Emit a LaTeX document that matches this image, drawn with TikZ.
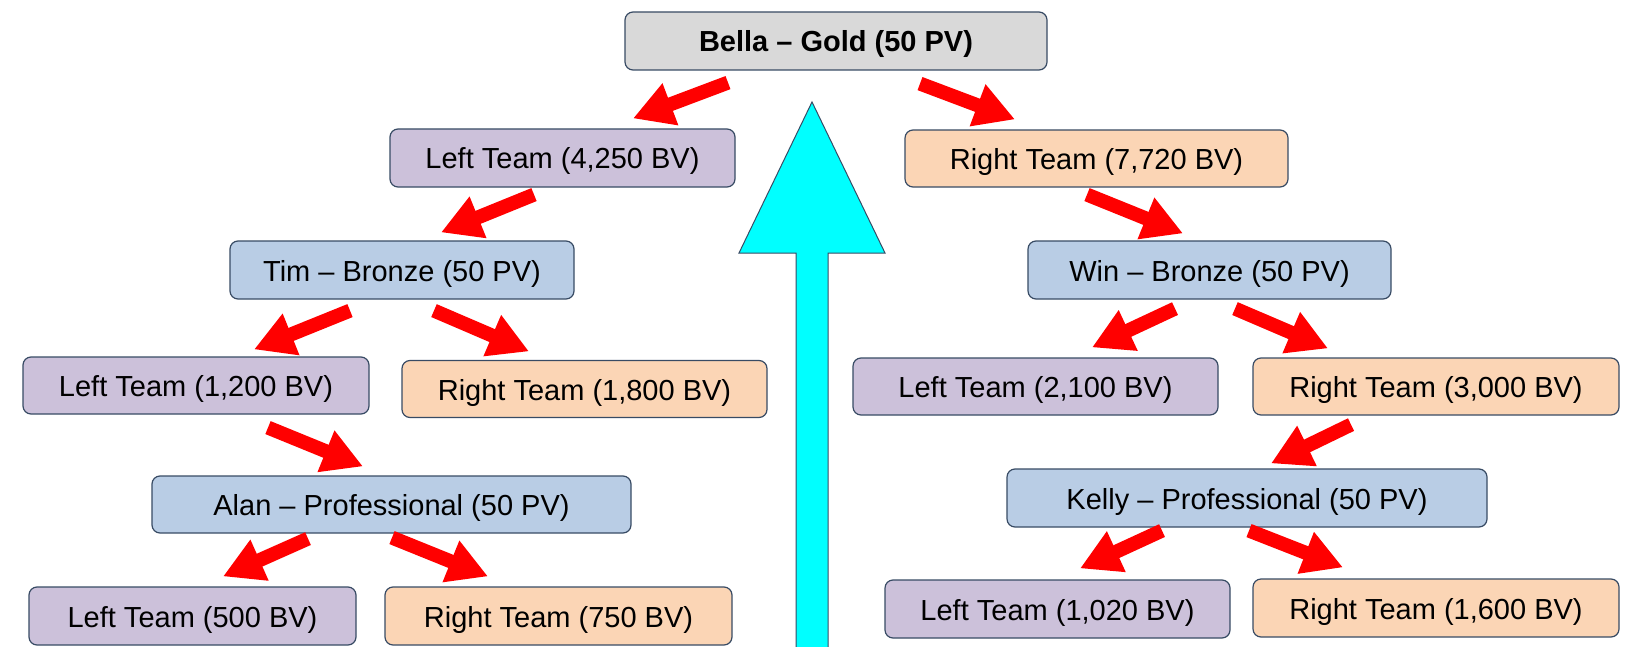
\documentclass[tikz,border=0pt]{standalone}
\usepackage{fontspec}
\setmainfont{Liberation Sans}
\usetikzlibrary{arrows.meta,calc}
\definecolor{boxline}{RGB}{56,75,100}
\definecolor{goldfill}{RGB}{217,217,217}
\definecolor{leftfill}{RGB}{204,193,218}
\definecolor{rightfill}{RGB}{251,213,181}
\definecolor{memberfill}{RGB}{185,205,229}
\definecolor{aqua}{RGB}{0,255,255}
\begin{document}
\begin{tikzpicture}[x=0.5pt,y=-0.5pt,
  box/.style={draw=boxline,line width=0.6pt,rounded corners=4pt,inner sep=0pt,
    text height=11pt,text depth=0pt,font=\fontsize{14.5}{17}\selectfont},
  sz/.style 2 args={minimum width=#1*0.5pt,minimum height=#2*0.5pt},
  gold/.style={box,fill=goldfill},
  member/.style={box,fill=memberfill},
  leftteam/.style={box,fill=leftfill},
  rightteam/.style={box,fill=rightfill},
  conn/.style={draw=red,line width=7pt,-{Triangle[length=20pt,width=21pt]}}]
\useasboundingbox (0,0) rectangle (1627,647);
\filldraw[fill=aqua,draw=boxline,line width=0.5pt] (796,647) -- (796,253) -- (739,253) -- (812,102)
  -- (885,253) -- (828,253) -- (828,647);
\node[gold,sz={422}{58}] (bella) at (836,41) {\textbf{Bella -- Gold (50 PV)}};
\node[leftteam,sz={345}{58}] (lt1) at (562.5,158) {Left Team (4,250 BV)};
\node[rightteam,sz={383}{57}] (rt1) at (1096.5,158.5) {Right Team (7,720 BV)};
\node[member,sz={344}{58}] (tim) at (402,270) {Tim -- Bronze (50 PV)};
\node[member,sz={363}{58}] (win) at (1209.5,270) {Win -- Bronze (50 PV)};
\node[leftteam,sz={346}{57}] (lt2) at (196,385.5) {Left Team (1,200 BV)};
\node[rightteam,sz={365}{57}] (rt2) at (584.5,389) {Right Team (1,800 BV)};
\node[leftteam,sz={365}{57}] (lt3) at (1035.5,386.5) {Left Team (2,100 BV)};
\node[rightteam,sz={366}{57}] (rt3) at (1436,386.5) {Right Team (3,000 BV)};
\node[member,sz={479}{57}] (alan) at (391.5,504.5) {Alan -- Professional (50 PV)};
\node[member,sz={480}{58}] (kelly) at (1247,498) {Kelly -- Professional (50 PV)};
\node[leftteam,sz={327}{58}] (lt4) at (192.5,616) {Left Team (500 BV)};
\node[rightteam,sz={347}{58}] (rt4) at (558.5,616) {Right Team (750 BV)};
\node[leftteam,sz={345}{58}] (lt5) at (1057.5,609) {Left Team (1,020 BV)};
\node[rightteam,sz={366}{58}] (rt5) at (1436,608) {Right Team (1,600 BV)};
\draw[conn] ($(bella.south)+(-108,12)$) -- ($(lt1.north)+(70.5,-10)$);
\draw[conn] ($(bella.south)+(84,13)$) -- ($(rt1.north)+(-81.5,-10)$);
\draw[conn] ($(lt1.south)+(-28.5,7)$) -- ($(tim.north)+(39,-8)$);
\draw[conn] ($(rt1.south)+(-9.5,7)$) -- ($(win.north)+(-26.5,-7)$);
\draw[conn] ($(tim.south)+(-52,11)$) -- ($(lt2.north)+(58,-7)$);
\draw[conn] ($(tim.south)+(32,11)$) -- ($(rt2.north)+(-55.5,-8.5)$);
\draw[conn] ($(win.south)+(-34.5,9)$) -- ($(lt3.north)+(56.5,-10)$);
\draw[conn] ($(win.south)+(25.5,9)$) -- ($(rt3.north)+(-108,-9)$);
\draw[conn] ($(lt2.south)+(72,13)$) -- ($(alan.north)+(-28.5,-9)$);
\draw[conn] ($(rt3.south)+(-85,9)$) -- ($(kelly.north)+(24,-5)$);
\draw[conn] ($(alan.south)+(-83.5,5)$) -- ($(lt4.north)+(30.5,-10)$);
\draw[conn] ($(alan.south)+(0.5,4)$) -- ($(rt4.north)+(-70.5,-10)$);
\draw[conn] ($(kelly.south)+(-85,3)$) -- ($(lt5.north)+(22.5,-11)$);
\draw[conn] ($(kelly.south)+(2,3)$) -- ($(rt5.north)+(-93,-11)$);
\end{tikzpicture}
\end{document}
